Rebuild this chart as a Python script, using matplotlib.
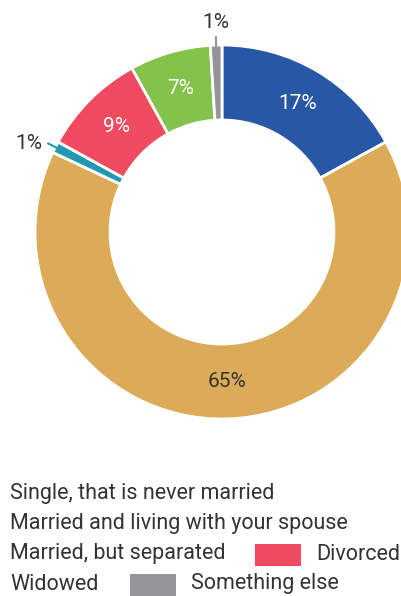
import matplotlib.pyplot as plt
import numpy as np

plt.rcParams['font.family'] = ['Roboto', 'DejaVu Sans']

labels = ['Single, that is never married', 'Married and living with your spouse',
          'Married, but separated', 'Divorced', 'Widowed', 'Something else']
values = [17, 65, 1, 9, 7, 1]
colors = ['#2857a5', '#dcab5a', '#2398b2', '#ef4a5f', '#84c34b', '#939598']
text_colors = ['white', '#333333', '#333333', 'white', 'white', '#333333']

W, H = 401, 596
fig = plt.figure(figsize=(W / 100, H / 100), dpi=100)
ax = fig.add_axes([0, 0, 1, 1])

cx, cy = 222, H - 232
r_out = 187
r_in = 112

wedges, _ = ax.pie(values, colors=colors, startangle=90, counterclock=False,
                   center=(cx, cy), radius=r_out,
                   wedgeprops=dict(width=r_out - r_in, edgecolor='white', linewidth=2))

# percentage labels: inside the ring for big slices, outside with a stub for tiny ones
total = sum(values)
start = 0
r_mid = (r_out + r_in) / 2
for i, (v, tc) in enumerate(zip(values, text_colors)):
    mid = (start + v / 2) / total * 2 * np.pi
    start += v
    sx, sy = np.sin(mid), np.cos(mid)
    txt = f'{v}%'
    if v >= 3:
        ax.text(cx + r_mid * sx, cy + r_mid * sy, txt, color=tc, fontsize=15,
                ha='center', va='center')
    else:
        ex, ey = cx + (r_out + 9) * sx, cy + (r_out + 9) * sy
        ax.plot([cx + (r_out - 2) * sx, ex], [cy + (r_out - 2) * sy, ey],
                color=colors[i], lw=1.5, solid_capstyle='butt')
        if sx < -0.5:
            ax.text(ex - 5, ey, txt, color=tc, fontsize=15, ha='right', va='center')
        else:
            ax.text(ex, ey + 4, txt, color=tc, fontsize=15, ha='center', va='bottom')

# legend rows
leg_color = '#333333'
fs = 15.5
ax.text(10, H - 494, labels[0], fontsize=fs, color=leg_color, va='center')
ax.text(10, H - 523, labels[1], fontsize=fs, color=leg_color, va='center')
ax.text(10, H - 554, labels[2], fontsize=fs, color=leg_color, va='center')
ax.add_patch(plt.Rectangle((255, H - 566), 46, 22, color=colors[3], lw=0))
ax.text(316, H - 554, labels[3], fontsize=fs, color=leg_color, va='center')
ax.text(10, H - 584, labels[4], fontsize=fs, color=leg_color, va='center')
ax.add_patch(plt.Rectangle((130, H - 596), 46, 22, color=colors[5], lw=0))
ax.text(191, H - 584, labels[5], fontsize=fs, color=leg_color, va='center')

ax.set_xlim(0, W)
ax.set_ylim(0, H)
ax.set_aspect('equal')
ax.axis('off')

fig.savefig('out.png', dpi=100, facecolor='white')
